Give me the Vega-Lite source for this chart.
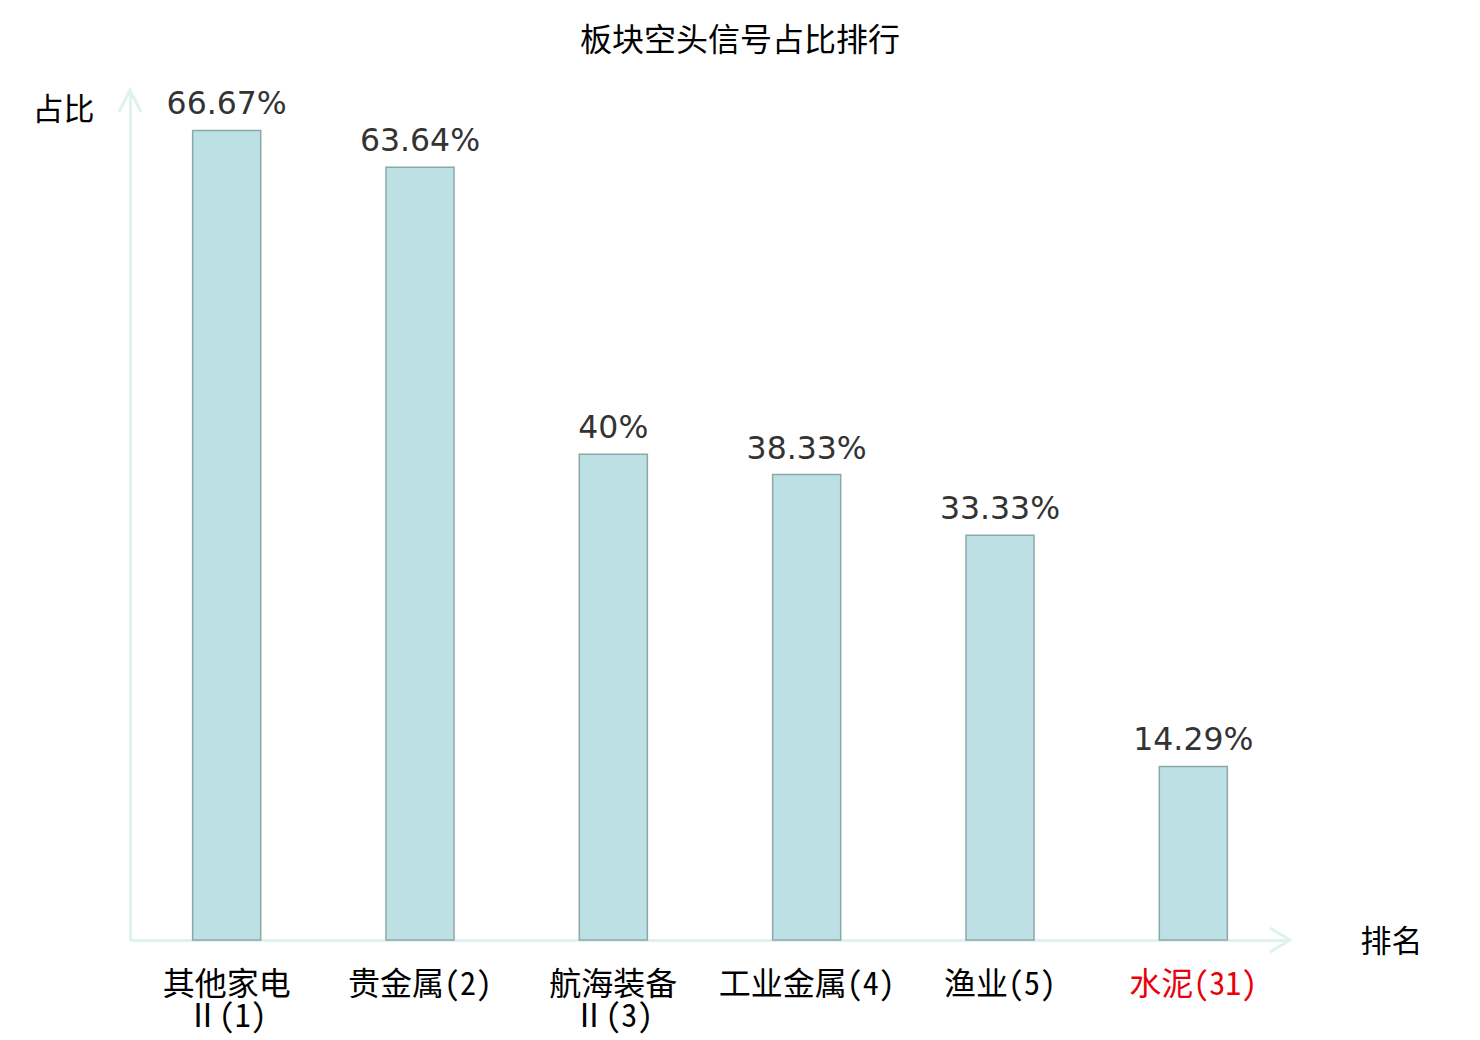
{
  "$schema": "https://vega.github.io/schema/vega-lite/v6.json",
  "width": 1160,
  "height": 850,
  "autosize": "none",
  "padding": {"left": 130, "top": 90, "right": 190, "bottom": 100},
  "background": "white",
  "title": {
    "text": "板块空头信号占比排行",
    "font": "Noto Sans CJK SC",
    "fontSize": 32,
    "fontWeight": "normal",
    "color": "#000000",
    "anchor": "middle",
    "baseline": "alphabetic",
    "offset": 1,
    "dx": 30
  },
  "data": {
    "values": [
      {"sector": "其他家电Ⅱ(1)", "ratio": 0.6667, "highlight": false},
      {"sector": "贵金属(2)", "ratio": 0.6364, "highlight": false},
      {"sector": "航海装备Ⅱ(3)", "ratio": 0.4, "highlight": false},
      {"sector": "工业金属(4)", "ratio": 0.3833, "highlight": false},
      {"sector": "渔业(5)", "ratio": 0.3333, "highlight": false},
      {"sector": "水泥(31)", "ratio": 0.1429, "highlight": true}
    ]
  },
  "layer": [
    {
      "mark": {"type": "bar", "fill": "#bce0e3", "stroke": "#8ca8a8", "strokeWidth": 1.5},
      "encoding": {
        "x": {
          "field": "sector",
          "type": "nominal",
          "sort": null,
          "scale": {"paddingInner": 0.648, "paddingOuter": 0.324},
          "axis": {
            "title": "排名",
            "titleFont": "Noto Sans CJK SC",
            "titleFontSize": 31,
            "titleFontWeight": "normal",
            "titleColor": "#000000",
            "titleAngle": 0,
            "titleX": 1261,
            "titleY": 2,
            "titleAlign": "center",
            "titleBaseline": "middle",
            "domainColor": "#dff2f0",
            "domainWidth": 3,
            "ticks": false,
            "labelAngle": 0,
            "labelPadding": 44,
            "labelBaseline": "middle",
            "labelFont": "Noto Sans Mono CJK SC, Noto Sans CJK SC",
            "labelFontSize": 32,
            "labelLineHeight": 32,
            "labelLimit": 400,
            "labelColor": {"expr": "datum.value == '水泥(31)' ? '#e8000b' : '#000000'"},
            "labelExpr": "datum.value == '其他家电Ⅱ(1)' ? ['其他家电', 'Ⅱ(1)'] : datum.value == '航海装备Ⅱ(3)' ? ['航海装备', 'Ⅱ(3)'] : datum.value"
          }
        },
        "y": {
          "field": "ratio",
          "type": "quantitative",
          "scale": {"domain": [0, 0.7]},
          "axis": {
            "title": "占比",
            "titleFont": "Noto Sans CJK SC",
            "titleFontSize": 31,
            "titleFontWeight": "normal",
            "titleColor": "#000000",
            "titleAngle": 0,
            "titleX": -67,
            "titleY": 20,
            "titleAlign": "center",
            "titleBaseline": "middle",
            "domainColor": "#dff2f0",
            "domainWidth": 3,
            "ticks": false,
            "labels": false,
            "grid": false
          }
        }
      }
    },
    {
      "mark": {"type": "text", "font": "DejaVu Sans", "fontSize": 31.5, "color": "#333333", "baseline": "alphabetic", "dy": -16},
      "encoding": {
        "x": {"field": "sector", "type": "nominal", "sort": null},
        "y": {"field": "ratio", "type": "quantitative"},
        "text": {"field": "ratio", "type": "quantitative", "format": ".2~%"}
      }
    },
    {
      "data": {"values": [{"axis": "y"}]},
      "mark": {"type": "point", "shape": "M-0.5,1L0,0L0.5,1", "filled": false, "stroke": "#dff2f0", "strokeWidth": 3, "size": 1936, "opacity": 1},
      "encoding": {
        "x": {"value": 0},
        "y": {"datum": 0.7}
      }
    },
    {
      "data": {"values": [{"axis": "x"}]},
      "mark": {"type": "point", "shape": "M-1,-0.6L0,0L-1,0.6", "filled": false, "stroke": "#dff2f0", "strokeWidth": 3, "size": 1600, "opacity": 1},
      "encoding": {
        "x": {"value": "width"},
        "y": {"datum": 0}
      }
    }
  ],
  "config": {
    "view": {"stroke": null}
  }
}
